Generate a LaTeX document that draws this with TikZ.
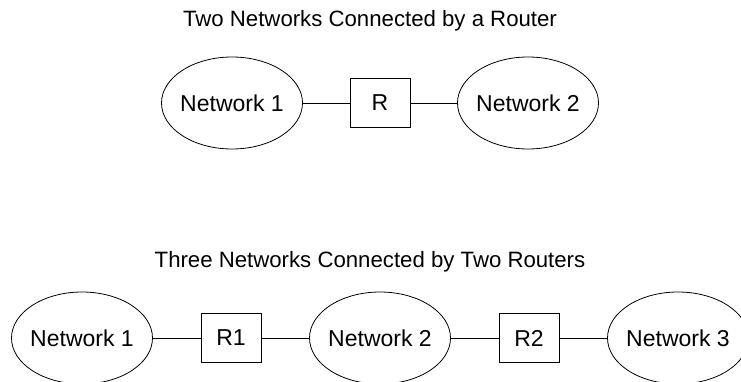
\documentclass[tikz,border=0pt]{standalone}
\usepackage{fontspec}
\setmainfont{Liberation Sans}
\usepackage{tikz}
\usetikzlibrary{shapes.geometric, positioning}

\tikzset{
    netnode/.style={ellipse, draw, line width=0.8pt, minimum width=141pt, minimum height=92pt, inner sep=-4pt, font=\fontsize{23}{27}\selectfont},
    routernode/.style={rectangle, draw, line width=0.8pt, minimum width=60pt, minimum height=49pt, inner sep=0pt, font=\fontsize{23}{27}\selectfont},
    link/.style={line width=0.8pt}
}

\begin{document}
\begin{tikzpicture}[x=1pt, y=-1pt, font=\fontsize{22.2}{26}\selectfont]
    \useasboundingbox (0,0) rectangle (741,382);

    % Top: two networks, one router
    \node[anchor=base] (titleA) at (370,27) {Two Networks Connected by a Router};
    \node[netnode] (a1) at (232,103) {Network 1};
    \node[routernode] (ar) at (380,103) {R};
    \node[netnode] (a2) at (528,103) {Network 2};
    \draw[link] (a1) -- (ar);
    \draw[link] (ar) -- (a2);

    % Bottom: three networks, two routers
    \node[anchor=base] (titleB) at (370,267) {Three Networks Connected by Two Routers};
    \foreach \x/\name/\label in {82/b1/Network 1, 380/b2/Network 2, 678/b3/Network 3} {
        \node[netnode] (\name) at (\x,338) {\label};
    }
    \foreach \x/\name/\label in {231/br1/R1, 529/br2/R2} {
        \node[routernode] (\name) at (\x,338) {\label};
    }
    \draw[link] (b1) -- (br1);
    \draw[link] (br1) -- (b2);
    \draw[link] (b2) -- (br2);
    \draw[link] (br2) -- (b3);
\end{tikzpicture}
\end{document}
